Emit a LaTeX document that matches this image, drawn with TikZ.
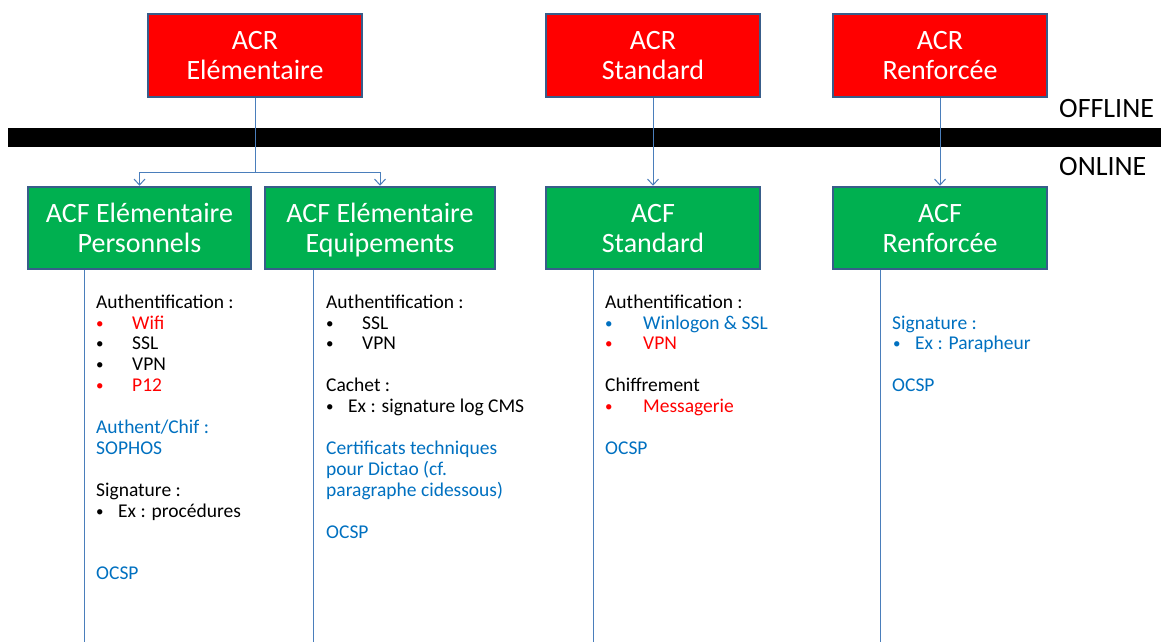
\documentclass[tikz,border=0pt]{standalone}
\usepackage{fontspec}
\setmainfont{Carlito}
\usetikzlibrary{arrows.meta}
\definecolor{boxred}{RGB}{255,0,0}
\definecolor{boxgreen}{RGB}{0,176,80}
\definecolor{boxline}{RGB}{56,93,138}
\definecolor{connc}{RGB}{74,126,187}
\definecolor{txtblue}{RGB}{0,112,192}
\definecolor{txtred}{RGB}{255,0,0}
\newcommand\bxs{\rule[-6pt]{0pt}{30pt}}
\begin{document}
\begin{tikzpicture}[x=1pt,y=-1pt,
 box/.style={draw=boxline,line width=2.5pt,text=white,align=center,font=\fontsize{28}{30}\selectfont,inner sep=0pt},
 rbox/.style={box,fill=boxred,minimum width=214pt,minimum height=83pt},
 gbox/.style={box,fill=boxgreen,minimum height=82pt},
 conn/.style={draw=connc,line width=1pt},
 arr/.style={conn,-{Straight Barb[length=6pt,width=11pt]}},
 txt/.style={anchor=base west,inner sep=0pt,font=\fontsize{19.5}{21}\selectfont},
 bul/.style={anchor=base west,inner sep=0pt,font=\fontsize{15}{21}\selectfont},
 big/.style={anchor=base west,inner sep=0pt,font=\fontsize{28}{30}\selectfont},
 blue/.style={text=txtblue},
 red/.style={text=txtred}]
\useasboundingbox (0,0) rectangle (1161,642);
% bar
\fill[black] (8,128) rectangle (1161,147);
\node[big] (off) at (1059,117) {OFFLINE};
\node[big] (on) at (1059,175) {ONLINE};
% ACR boxes
\node[rbox] (acre) at (255,55.5) {\bxs ACR\\\bxs Elémentaire};
\node[rbox] (acrs) at (653,55.5) {\bxs ACR\\\bxs Standard};
\node[rbox] (acrr) at (940,55.5) {\bxs ACR\\\bxs Renforcée};
% ACF boxes
\node[gbox,minimum width=223pt] (acfp) at (139.5,228) {\bxs ACF Elémentaire\\\bxs Personnels};
\node[gbox,minimum width=230pt] (acfq) at (380,228) {\bxs ACF Elémentaire\\\bxs Equipements};
\node[gbox,minimum width=214pt] (acfs) at (653,228) {\bxs ACF\\\bxs Standard};
\node[gbox,minimum width=214pt] (acfr) at (940,228) {\bxs ACF\\\bxs Renforcée};
% connectors
\coordinate (j) at (255,172);
\draw[conn] (acre.south) -- (j);
\draw[arr] (j) -| (acfp.north);
\draw[arr] (j) -| (acfq.north);
\draw[arr] (acrs.south) -- (acfs.north);
\draw[arr] (acrr.south) -- (acfr.north);
% vertical lines
\coordinate (e1) at (84,642);
\coordinate (e2) at (313,642);
\coordinate (e3) at (593,642);
\coordinate (e4) at (880,642);
\draw[conn] (acfp.south -| e1) -- (e1);
\draw[conn] (acfq.south -| e2) -- (e2);
\draw[conn] (acfs.south -| e3) -- (e3);
\draw[conn] (acfr.south -| e4) -- (e4);
% column 1
\node[txt] (a1) at (96,308) {Authentification :};
\node[bul,red] (a2b) at (96,328) {•}; \node[txt,red] (a2) at (132,329) {Wifi};
\node[bul] (a3b) at (96,348) {•}; \node[txt] (a3) at (132,349) {SSL};
\node[bul] (a4b) at (96,369) {•}; \node[txt] (a4) at (132,370) {VPN};
\node[bul,red] (a5b) at (96,390) {•}; \node[txt,red] (a5) at (132,391) {P12};
\node[txt,blue] (a6) at (96,433) {Authent/Chif :};
\node[txt,blue] (a7) at (96,454) {SOPHOS};
\node[txt] (a8) at (96,496) {Signature :};
\node[bul] (a9b) at (96,516) {•}; \node[txt] (a9) at (118,517) {Ex : procédures};
\node[txt,blue] (a10) at (96,579) {OCSP};
% column 2
\node[txt] (b1) at (326,308) {Authentification :};
\node[bul] (b2b) at (326,328) {•}; \node[txt] (b2) at (362,329) {SSL};
\node[bul] (b3b) at (326,348) {•}; \node[txt] (b3) at (362,349) {VPN};
\node[txt] (b4) at (326,391) {Cachet :};
\node[bul] (b5b) at (326,411) {•}; \node[txt] (b5) at (348,412) {Ex : signature log CMS};
\node[txt,blue] (b6) at (326,454) {Certificats techniques};
\node[txt,blue] (b7) at (326,475) {pour Dictao (cf.};
\node[txt,blue] (b8) at (326,496) {paragraphe cidessous)};
\node[txt,blue] (b9) at (326,538) {OCSP};
% column 3
\node[txt] (c1) at (605,308) {Authentification :};
\node[bul,blue] (c2b) at (605,328) {•}; \node[txt,blue] (c2) at (643,329) {Winlogon \& SSL};
\node[bul,red] (c3b) at (605,348) {•}; \node[txt,red] (c3) at (643,349) {VPN};
\node[txt] (c4) at (605,391) {Chiffrement};
\node[bul,red] (c5b) at (605,411) {•}; \node[txt,red] (c5) at (643,412) {Messagerie};
\node[txt,blue] (c6) at (605,454) {OCSP};
% column 4
\node[txt,blue] (d1) at (892,329) {Signature :};
\node[bul,blue] (d2b) at (893,348) {•}; \node[txt,blue] (d2) at (915,349) {Ex : Parapheur};
\node[txt,blue] (d3) at (892,391) {OCSP};
\end{tikzpicture}
\end{document}
